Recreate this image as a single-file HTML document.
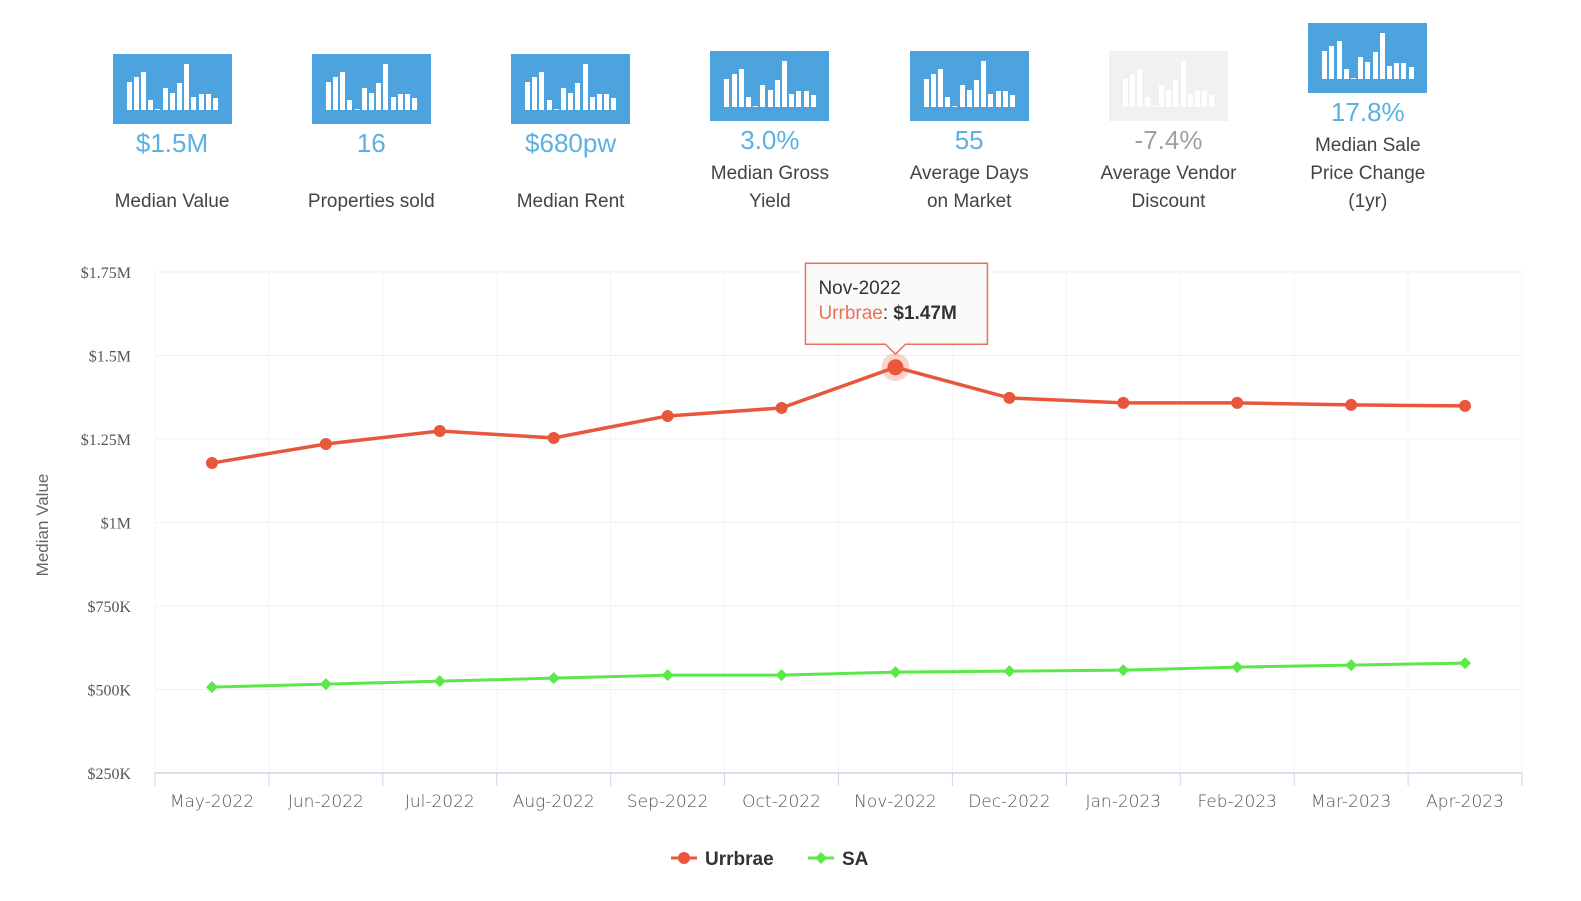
<!DOCTYPE html>
<html><head><meta charset="utf-8"><style>
body{margin:0;width:1581px;height:901px;background:#fff;position:relative;overflow:hidden;font-family:"Liberation Sans","DejaVu Sans",sans-serif}
.tile{position:absolute;width:200px;text-align:center}
.ic{position:absolute;width:119px;height:70px;background:#4ca3de}
.ic.f{background:#f1f1f1}
.ic span{position:absolute;bottom:14px;width:5px;background:#fff}
.v{position:absolute;width:200px;text-align:center;font-size:26px;color:#5cb0e2}
.v.f{color:#a0a0a0}
.l{position:absolute;width:200px;text-align:center;font-size:19px;color:#444;line-height:28px}
</style></head><body>
<div id="tiles"></div>
<svg id="chart" width="1581" height="901" style="position:absolute;left:0;top:0"></svg>
<script>
const tileValues=["$1.5M","16","$680pw","3.0%","55","-7.4%","17.8%"];
const tileLabels=[["Median Value"],["Properties sold"],["Median Rent"],["Median Gross","Yield"],["Average Days","on Market"],["Average Vendor","Discount"],["Median Sale","Price Change","(1yr)"]];
const tileNames=["median-value","properties-sold","median-rent","median-gross-yield","average-days-on-market","average-vendor-discount","median-sale-price-change"];
const iconBars=[28,33,38,10,1,22,17,27,46,13,16,16,12];
const tc=document.getElementById('tiles');
tileValues.forEach((val,i)=>{
  const cx=172+i*199.3;
  const nl=tileLabels[i].length;
  const top= nl===3?23:(nl===2?51:54);
  const fade=i===5;
  const ic=document.createElement('div');
  ic.className='ic'+(fade?' f':'');
  
  
  ic.style.left=(cx-59.5)+'px';ic.style.top=top+'px';
  iconBars.forEach((h,j)=>{const s=document.createElement('span');s.style.left=(14+j*7.2)+'px';s.style.height=h+'px';ic.appendChild(s);});
  tc.appendChild(ic);
  const v=document.createElement('div');
  v.className='v'+(fade?' f':'');
  
  
  v.textContent=val;v.style.left=(cx-100)+'px';v.style.top=(top+74)+'px';
  tc.appendChild(v);
  const l=document.createElement('div');
  l.className='l';
  
  
  l.innerHTML=tileLabels[i].join('<br>');
  l.style.left=(cx-100)+'px';l.style.top=(216-nl*28)+'px';
  tc.appendChild(l);
});

const categories=["May-2022","Jun-2022","Jul-2022","Aug-2022","Sep-2022","Oct-2022","Nov-2022","Dec-2022","Jan-2023","Feb-2023","Mar-2023","Apr-2023"];
const urrbrae=[1178,1235,1274,1253,1319,1343,1465,1373,1358,1358,1352,1349];
const sa=[507,516,525,534,543,543,552,555,558,567,573,579];
const yTicks=[250,500,750,1000,1250,1500,1750];
const yTickLabels=["$250K","$500K","$750K","$1M","$1.25M","$1.5M","$1.75M"];

const svg=document.getElementById('chart');const NS='http://www.w3.org/2000/svg';
const L=155,R=1522,T=272,B=773;
const x=i=>L+(R-L)/categories.length*(i+0.5);
const y=v=>B-(v-250)/1500*(B-T);
function mk(t,a,p){const e=document.createElementNS(NS,t);for(const k in a)e.setAttribute(k,a[k]);(p||svg).appendChild(e);return e;}
yTicks.forEach((t,i)=>{
  const g=mk('line',{x1:L,x2:R,y1:y(t),y2:y(t),stroke:'#eef0f4','stroke-width':1});
  
  
  const tx=mk('text',{x:131,y:y(t)+6,'text-anchor':'end','font-size':16,fill:'#555','font-family':'Liberation Serif, serif'});
  tx.textContent=yTickLabels[i];
  
  
});
for(let i=0;i<=categories.length;i++){
  const gx=L+(R-L)/categories.length*i;
  mk('line',{x1:gx,x2:gx,y1:T,y2:B,stroke:'#f4f5f8'});
  mk('line',{x1:gx,x2:gx,y1:B,y2:B+13,stroke:'#ccd6eb'});
}
const ax=mk('line',{x1:L,x2:R,y1:B,y2:B,stroke:'#ccd6eb','stroke-width':1.5});


categories.forEach((c,i)=>{
  const t=mk('text',{x:x(i),y:807,'text-anchor':'middle','font-size':17,fill:'#555','font-family':'DejaVu Sans, sans-serif','font-weight':'300'});
  t.textContent=c;
  
  
});
const yt=mk('text',{x:0,y:0,transform:'translate(48,525) rotate(-90)','text-anchor':'middle','font-size':17,fill:'#666'});
yt.textContent='Median Value';



const sp=mk('polyline',{points:sa.map((v,i)=>x(i)+','+y(v)).join(' '),fill:'none',stroke:'#5ce84a','stroke-width':3});


sa.forEach((v,i)=>{
  const d=mk('path',{d:`M${x(i)},${y(v)-6}l6,6l-6,6l-6,-6z`,fill:'#5ce84a'});
  
  
});
const up=mk('polyline',{points:urrbrae.map((v,i)=>x(i)+','+y(v)).join(' '),fill:'none',stroke:'#e8573b','stroke-width':3.5});


urrbrae.forEach((v,i)=>{
  if(i===6){const h=mk('circle',{cx:x(i),cy:y(v),r:14,fill:'#e8573b','fill-opacity':0.25});}
  const c=mk('circle',{cx:x(i),cy:y(v),r:i===6?8:6,fill:'#e8573b'});
  
  
});
// tooltip
const hx=x(6),hy=y(urrbrae[6]);
const tg=mk('g',{});


mk('path',{d:`M${hx-90},${hy-104} h182 v81 h-82 l-10,10 l-10,-10 h-80 z`,fill:'#fafafa',stroke:'#e8735b','stroke-width':1.5,filter:''},tg);
const t1=mk('text',{x:hx-77,y:hy-73,'font-size':19,fill:'#333'},tg);t1.textContent='Nov-2022';
const t2=mk('text',{x:hx-77,y:hy-48,'font-size':19},tg);
const s1=mk('tspan',{fill:'#e8735b'},t2);s1.textContent='Urrbrae';
const s2=mk('tspan',{fill:'#333'},t2);s2.textContent=': ';
const s3=mk('tspan',{fill:'#333','font-weight':'bold'},t2);s3.textContent='$1.47M';
// legend
const lg=mk('g',{});


const le1=mk('g',{},lg);


mk('line',{x1:671,x2:697,y1:858,y2:858,stroke:'#e8573b','stroke-width':3},le1);
mk('circle',{cx:684,cy:858,r:6,fill:'#e8573b'},le1);
const lt1=mk('text',{x:705,y:865,'font-size':19,'font-weight':'bold',fill:'#333'},le1);lt1.textContent='Urrbrae';
const le2=mk('g',{},lg);


mk('line',{x1:808,x2:834,y1:858,y2:858,stroke:'#5ce84a','stroke-width':3},le2);
mk('path',{d:'M821,852l6,6l-6,6l-6,-6z',fill:'#5ce84a'},le2);
const lt2=mk('text',{x:842,y:865,'font-size':19,'font-weight':'bold',fill:'#333'},le2);lt2.textContent='SA';
</script>
</body></html>
